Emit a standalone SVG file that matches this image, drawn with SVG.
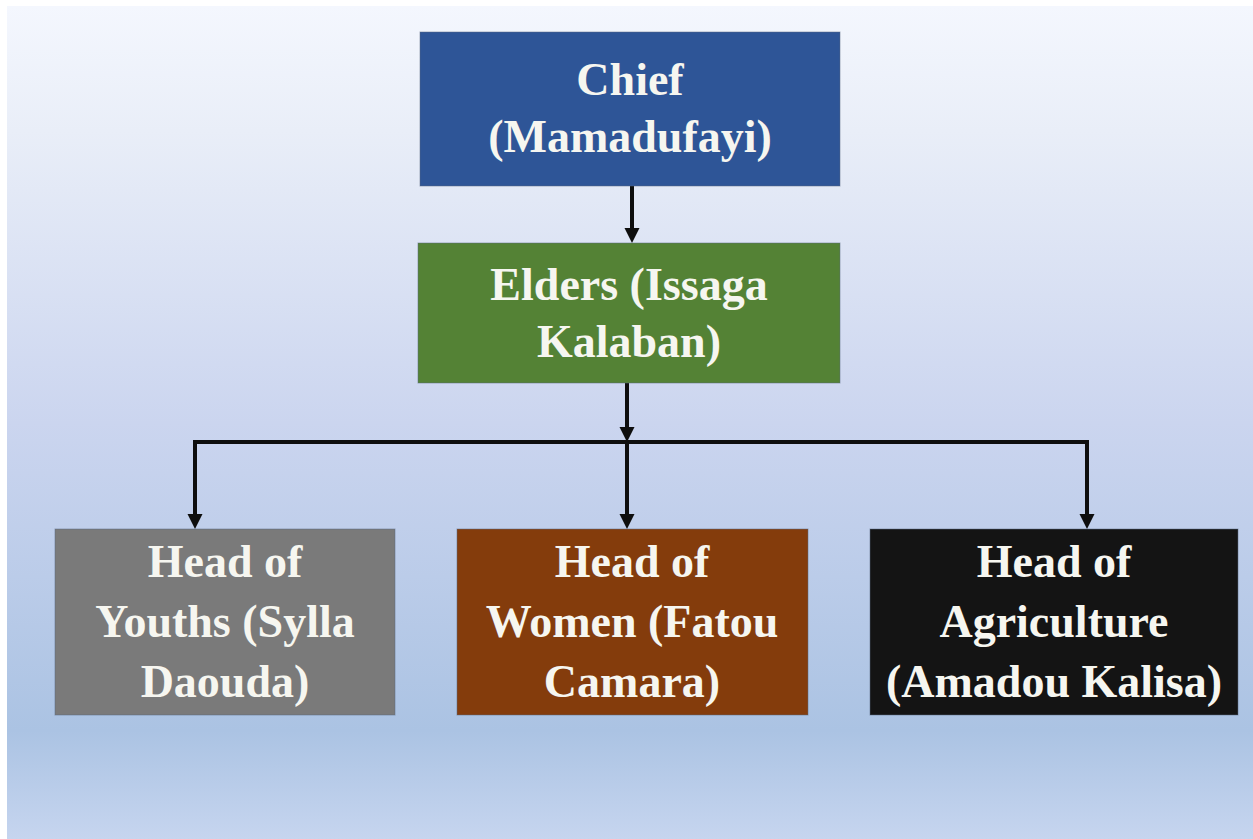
<svg xmlns="http://www.w3.org/2000/svg" width="1253" height="839" viewBox="0 0 1253 839">
<defs>
<linearGradient id="bg" x1="0" y1="0" x2="0" y2="1">
<stop offset="0" stop-color="#f4f7fe"/>
<stop offset="0.15" stop-color="#e9eef8"/>
<stop offset="0.5" stop-color="#cbd5ef"/>
<stop offset="0.87" stop-color="#abc3e3"/>
<stop offset="1" stop-color="#c6d5ef"/>
</linearGradient>
<marker id="arr" markerUnits="userSpaceOnUse" markerWidth="16" markerHeight="16" viewBox="0 0 16 16" refX="4" refY="8" orient="auto">
<path d="M0,0.5 L15,8 L0,15.5 Z" fill="#0e0e0e"/>
</marker>
<style>
.box{stroke:#5a6a80;stroke-width:1;stroke-opacity:0.5}
.lbl{font-family:"Liberation Serif","Times New Roman",serif;font-weight:bold;font-size:46px;fill:#f6f6f0;text-anchor:middle}
.con{fill:none;stroke:#0e0e0e;stroke-width:4}
.arrow{marker-end:url(#arr)}
</style>
</defs>
<rect x="0" y="0" width="1253" height="839" fill="#ffffff"/>
<rect x="7" y="6" width="1246" height="833" fill="url(#bg)"/>
<g id="connectors">
<line class="con arrow" x1="632" y1="186" x2="632" y2="232"/>
<line class="con arrow" x1="627" y1="383" x2="627" y2="431"/>
<path class="con" d="M195,444 V442 H1087 V444"/>
<line class="con arrow" x1="195" y1="440" x2="195" y2="518"/>
<line class="con arrow" x1="627" y1="442" x2="627" y2="518"/>
<line class="con arrow" x1="1087" y1="440" x2="1087" y2="518"/>
</g>
<g id="chief">
<rect class="box" x="420" y="32" width="420" height="154" fill="#2e5597"/>
<text class="lbl" x="630" y="95">Chief</text>
<text class="lbl" x="630" y="152">(Mamadufayi)</text>
</g>
<g id="elders">
<rect class="box" x="418" y="243" width="422" height="140" fill="#548235"/>
<text class="lbl" x="629" y="300">Elders (Issaga</text>
<text class="lbl" x="629" y="357">Kalaban)</text>
</g>
<g id="youths">
<rect class="box" x="55" y="529" width="340" height="186" fill="#7a7a7a"/>
<text class="lbl" x="225" y="577">Head of</text>
<text class="lbl" x="225" y="637">Youths (Sylla</text>
<text class="lbl" x="225" y="697">Daouda)</text>
</g>
<g id="women">
<rect class="box" x="457" y="529" width="351" height="186" fill="#843c0c"/>
<text class="lbl" x="632" y="577">Head of</text>
<text class="lbl" x="632" y="637">Women (Fatou</text>
<text class="lbl" x="632" y="697">Camara)</text>
</g>
<g id="agriculture">
<rect class="box" x="870" y="529" width="368" height="186" fill="#141414"/>
<text class="lbl" x="1054" y="577">Head of</text>
<text class="lbl" x="1054" y="637">Agriculture</text>
<text class="lbl" x="1054" y="697">(Amadou Kalisa)</text>
</g>
</svg>
